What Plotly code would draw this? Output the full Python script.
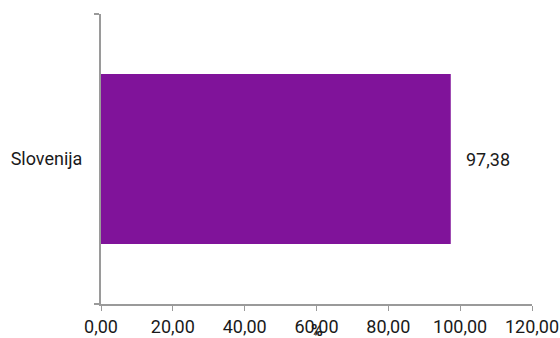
import plotly.graph_objects as go

categories = ["Slovenija"]
values = [97.38]
value_labels = ["97,38"]
x_ticks = [0, 20, 40, 60, 80, 100, 120]

FONT = "Roboto"
TXT = "#1a1a1a"
AX = "#9a9a9a"

fig = go.Figure()
fig.add_trace(go.Bar(
    y=categories, x=values, orientation="h",
    marker=dict(color="#80139A", line=dict(width=0)),
    width=0.586, hoverinfo="skip",
))
for c, v, t in zip(categories, values, value_labels):
    fig.add_annotation(x=v, y=c, text=t, showarrow=False, xanchor="left",
                       xshift=13, font=dict(family=FONT, size=18, color=TXT))

fig.add_annotation(xref="paper", yref="paper", x=0.5, y=0, yanchor="top",
                   yshift=-15, text="<b>%</b>", showarrow=False,
                   font=dict(family=FONT, size=16, color=TXT))

fig.update_layout(
    width=560, height=338,
    margin=dict(l=101, r=28, t=14, b=34),
    paper_bgcolor="white", plot_bgcolor="white",
    separators=",.",
    showlegend=False,
    font=dict(family=FONT, size=18, color=TXT),
    xaxis=dict(range=[0, 120], tickvals=x_ticks, tickformat=".2f",
               showgrid=False, zeroline=False, showline=True, automargin=False,
               linecolor=AX, linewidth=2, ticks="outside", tickcolor=AX,
               ticklen=5, tickwidth=1, fixedrange=True),
    yaxis=dict(range=[-0.5, 0.5], type="category", showgrid=False,
               zeroline=False, showline=True, linecolor=AX, linewidth=2,
               automargin=False,
               ticks="outside", tickson="boundaries", tickcolor=AX,
               ticklen=5, tickwidth=2, ticklabelstandoff=13, fixedrange=True),
)

fig.write_html("out.html", config={"displayModeBar": False},
               post_script="document.body.style.margin='0';")
